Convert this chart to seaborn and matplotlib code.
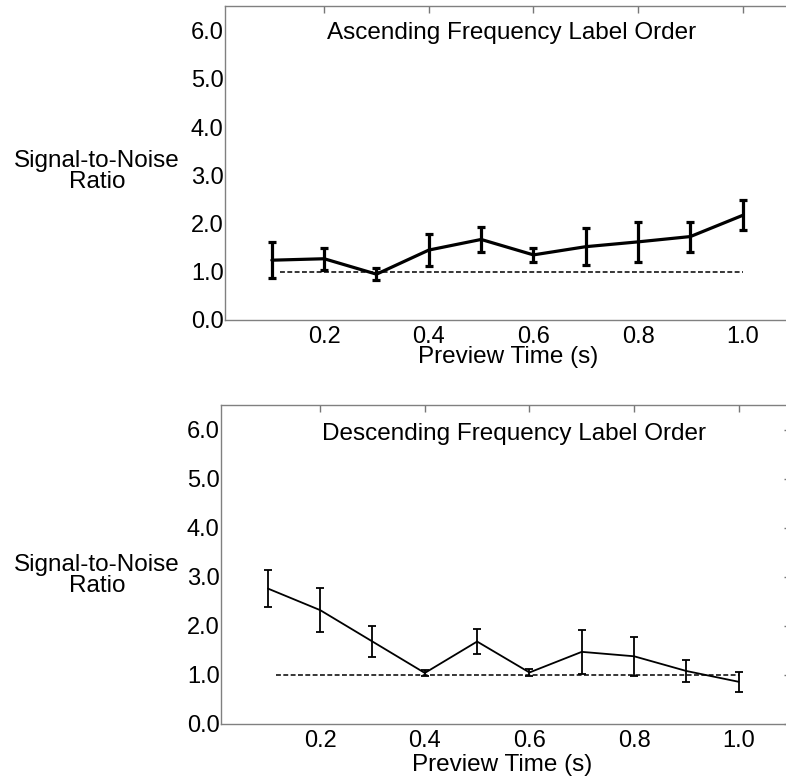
import matplotlib
matplotlib.use("Agg")
import matplotlib.pyplot as plt
import seaborn as sns
import numpy as np
import pandas as pd

# ---- data ----
preview_time = [0.1, 0.2, 0.3, 0.4, 0.5, 0.6, 0.7, 0.8, 0.9, 1.0]
asc_snr = [1.24, 1.27, 0.95, 1.45, 1.67, 1.35, 1.52, 1.62, 1.73, 2.17]
asc_err = [0.37, 0.23, 0.12, 0.34, 0.26, 0.14, 0.38, 0.42, 0.31, 0.31]
desc_snr = [2.76, 2.32, 1.68, 1.04, 1.68, 1.05, 1.47, 1.38, 1.08, 0.86]
desc_err = [0.38, 0.45, 0.32, 0.06, 0.25, 0.08, 0.45, 0.40, 0.22, 0.20]
ref_x_top = [0.116, 1.0]
ref_x_bot = [0.115, 1.0]
ref_y = [1.0, 1.0]
x_ticks = [0.2, 0.4, 0.6, 0.8, 1.0]
x_ticklabels = ["0.2", "0.4", "0.6", "0.8", "1.0"]
y_ticks = [0.0, 1.0, 2.0, 3.0, 4.0, 5.0, 6.0]
y_ticklabels = ["0.0", "1.0", "2.0", "3.0", "4.0", "5.0", "6.0"]
titles = ["Ascending Frequency Label Order", "Descending Frequency Label Order"]
ylabel = "Signal-to-Noise\nRatio"
xlabel = "Preview Time (s)"

sns.set_theme(style="white")
plt.rcParams['font.family'] = ['Liberation Sans', 'DejaVu Sans']

W, H = 786, 782
fig = plt.figure(figsize=(W / 100, H / 100), dpi=100)

def px_axes(l, r, t, b):
    return fig.add_axes([l / W, 1 - b / H, (r - l) / W, (b - t) / H])

ax1 = px_axes(225, 795, 6.5, 320)
ax2 = px_axes(221, 791, 405, 724)

FS = 17.5

panels = [
    (ax1, asc_snr, asc_err, ref_x_top, 2.3, titles[0], 512, 39, 508, 357, 97, 171.5),
    (ax2, desc_snr, desc_err, ref_x_bot, 1.3, titles[1], 514, 440, 502, 765, 97, 575.5),
]

for ax, snr, err, refx, lw, title, tx, ty, xx, xy, yx, yy in panels:
    df = pd.DataFrame({"t": preview_time, "snr": snr})
    ax.plot(refx, ref_y, color="black", lw=1.1, linestyle=(0, (3.2, 1.6)), zorder=2)
    sns.lineplot(data=df, x="t", y="snr", ax=ax, color="black", lw=lw, zorder=3)
    ax.errorbar(preview_time, snr, yerr=err, fmt="none", ecolor="black",
                elinewidth=lw, capsize=3.0, capthick=lw, zorder=3)
    ax.set_xlim(0.0104, 1.1)
    ax.set_ylim(0, 6.5)
    ax.set_xticks(x_ticks)
    ax.set_xticklabels(x_ticklabels)
    ax.set_yticks(y_ticks)
    ax.set_yticklabels(y_ticklabels)
    ax.tick_params(direction="in", length=5, width=1, color="#777777",
                   top=True, right=True, labelsize=FS - 0.5, labelcolor="black")
    ax.tick_params(axis="x", pad=4)
    ax.tick_params(axis="y", pad=1)
    for s in ax.spines.values():
        s.set_color("#808080")
        s.set_linewidth(1.0)
    ax.set_xlabel("")
    ax.set_ylabel("")
    ax.grid(False)
    fig.text(tx / W, 1 - ty / H, title, ha="center", va="baseline",
             fontsize=FS, color="black")
    fig.text(xx / W, 1 - xy / H, xlabel, ha="center", va="center",
             fontsize=FS, color="black")
    fig.text(yx / W, 1 - yy / H, ylabel, ha="center", va="center", fontsize=FS,
             color="black", linespacing=1.0)

fig.savefig("out.png", dpi=100, facecolor="white")
